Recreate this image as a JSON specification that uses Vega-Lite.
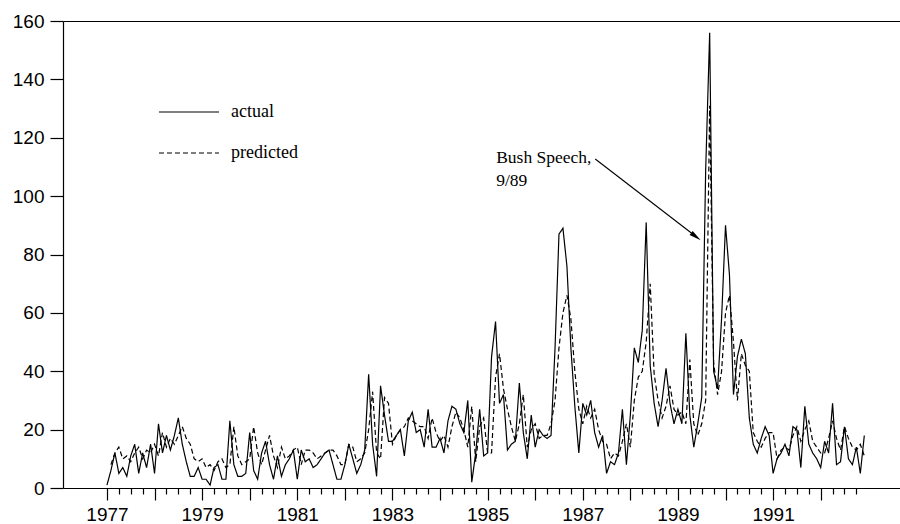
{
  "$schema": "https://vega.github.io/schema/vega-lite/v6.json",
  "width": 837,
  "height": 467,
  "autosize": {"type": "none"},
  "padding": {"left": 63, "top": 21, "right": 0, "bottom": 36},
  "background": "white",
  "config": {"view": {"stroke": null}},
  "datasets": {
    "series": [
      {"t":1977.000,"actual":1,"predicted":null},{"t":1977.083,"actual":6,"predicted":8},{"t":1977.167,"actual":12,"predicted":12},{"t":1977.250,"actual":5,"predicted":14},{"t":1977.333,"actual":7,"predicted":10},{"t":1977.417,"actual":4,"predicted":11},{"t":1977.500,"actual":11,"predicted":9},{"t":1977.583,"actual":15,"predicted":12},{"t":1977.667,"actual":5,"predicted":14},{"t":1977.750,"actual":12,"predicted":10},{"t":1977.833,"actual":7,"predicted":13},{"t":1977.917,"actual":15,"predicted":12},
      {"t":1978.000,"actual":5,"predicted":15},{"t":1978.083,"actual":22,"predicted":11},{"t":1978.167,"actual":12,"predicted":19},{"t":1978.250,"actual":18,"predicted":14},{"t":1978.333,"actual":13,"predicted":17},{"t":1978.417,"actual":18,"predicted":15},{"t":1978.500,"actual":24,"predicted":18},{"t":1978.583,"actual":15,"predicted":21},{"t":1978.667,"actual":9,"predicted":17},{"t":1978.750,"actual":4,"predicted":15},{"t":1978.833,"actual":4,"predicted":10},{"t":1978.917,"actual":7,"predicted":9},
      {"t":1979.000,"actual":3,"predicted":10},{"t":1979.083,"actual":3,"predicted":7},{"t":1979.167,"actual":1,"predicted":8},{"t":1979.250,"actual":7,"predicted":6},{"t":1979.333,"actual":8,"predicted":9},{"t":1979.417,"actual":3,"predicted":10},{"t":1979.500,"actual":3,"predicted":7},{"t":1979.583,"actual":23,"predicted":8},{"t":1979.667,"actual":8,"predicted":21},{"t":1979.750,"actual":4,"predicted":11},{"t":1979.833,"actual":4,"predicted":8},{"t":1979.917,"actual":5,"predicted":9},
      {"t":1980.000,"actual":19,"predicted":10},{"t":1980.083,"actual":6,"predicted":21},{"t":1980.167,"actual":3,"predicted":12},{"t":1980.250,"actual":12,"predicted":8},{"t":1980.333,"actual":16,"predicted":13},{"t":1980.417,"actual":8,"predicted":18},{"t":1980.500,"actual":3,"predicted":11},{"t":1980.583,"actual":11,"predicted":7},{"t":1980.667,"actual":4,"predicted":14},{"t":1980.750,"actual":8,"predicted":10},{"t":1980.833,"actual":10,"predicted":11},{"t":1980.917,"actual":13,"predicted":13},
      {"t":1981.000,"actual":3,"predicted":14},{"t":1981.083,"actual":13,"predicted":8},{"t":1981.167,"actual":9,"predicted":13},{"t":1981.250,"actual":10,"predicted":13},{"t":1981.333,"actual":7,"predicted":12},{"t":1981.417,"actual":8,"predicted":10},{"t":1981.500,"actual":10,"predicted":11},{"t":1981.583,"actual":12,"predicted":12},{"t":1981.667,"actual":13,"predicted":13},{"t":1981.750,"actual":8,"predicted":13},{"t":1981.833,"actual":3,"predicted":11},{"t":1981.917,"actual":3,"predicted":8},
      {"t":1982.000,"actual":8,"predicted":8},{"t":1982.083,"actual":15,"predicted":15},{"t":1982.167,"actual":10,"predicted":14},{"t":1982.250,"actual":5,"predicted":9},{"t":1982.333,"actual":8,"predicted":10},{"t":1982.417,"actual":13,"predicted":12},{"t":1982.500,"actual":39,"predicted":20},{"t":1982.583,"actual":15,"predicted":33},{"t":1982.667,"actual":4,"predicted":12},{"t":1982.750,"actual":35,"predicted":10},{"t":1982.833,"actual":25,"predicted":31},{"t":1982.917,"actual":16,"predicted":29},
      {"t":1983.000,"actual":16,"predicted":15},{"t":1983.083,"actual":18,"predicted":18},{"t":1983.167,"actual":20,"predicted":20},{"t":1983.250,"actual":11,"predicted":21},{"t":1983.333,"actual":23,"predicted":24},{"t":1983.417,"actual":26,"predicted":23},{"t":1983.500,"actual":19,"predicted":22},{"t":1983.583,"actual":20,"predicted":21},{"t":1983.667,"actual":14,"predicted":21},{"t":1983.750,"actual":27,"predicted":17},{"t":1983.833,"actual":14,"predicted":24},{"t":1983.917,"actual":14,"predicted":19},
      {"t":1984.000,"actual":17,"predicted":16},{"t":1984.083,"actual":12,"predicted":18},{"t":1984.167,"actual":23,"predicted":14},{"t":1984.250,"actual":28,"predicted":21},{"t":1984.333,"actual":27,"predicted":26},{"t":1984.417,"actual":22,"predicted":24},{"t":1984.500,"actual":19,"predicted":20},{"t":1984.583,"actual":30,"predicted":14},{"t":1984.667,"actual":2,"predicted":28},{"t":1984.750,"actual":12,"predicted":9},{"t":1984.833,"actual":27,"predicted":21},{"t":1984.917,"actual":11,"predicted":24},
      {"t":1985.000,"actual":12,"predicted":12},{"t":1985.083,"actual":45,"predicted":12},{"t":1985.167,"actual":57,"predicted":38},{"t":1985.250,"actual":29,"predicted":46},{"t":1985.333,"actual":32,"predicted":34},{"t":1985.417,"actual":13,"predicted":27},{"t":1985.500,"actual":15,"predicted":21},{"t":1985.583,"actual":16,"predicted":16},{"t":1985.667,"actual":36,"predicted":22},{"t":1985.750,"actual":19,"predicted":32},{"t":1985.833,"actual":10,"predicted":14},{"t":1985.917,"actual":25,"predicted":20},
      {"t":1986.000,"actual":14,"predicted":22},{"t":1986.083,"actual":20,"predicted":17},{"t":1986.167,"actual":18,"predicted":18},{"t":1986.250,"actual":17,"predicted":18},{"t":1986.333,"actual":18,"predicted":22},{"t":1986.417,"actual":48,"predicted":30},{"t":1986.500,"actual":87,"predicted":48},{"t":1986.583,"actual":89,"predicted":60},{"t":1986.667,"actual":76,"predicted":66},{"t":1986.750,"actual":48,"predicted":58},{"t":1986.833,"actual":28,"predicted":40},{"t":1986.917,"actual":12,"predicted":27},
      {"t":1987.000,"actual":29,"predicted":22},{"t":1987.083,"actual":25,"predicted":28},{"t":1987.167,"actual":30,"predicted":24},{"t":1987.250,"actual":19,"predicted":27},{"t":1987.333,"actual":14,"predicted":20},{"t":1987.417,"actual":18,"predicted":16},{"t":1987.500,"actual":5,"predicted":15},{"t":1987.583,"actual":9,"predicted":10},{"t":1987.667,"actual":8,"predicted":12},{"t":1987.750,"actual":12,"predicted":11},{"t":1987.833,"actual":27,"predicted":16},{"t":1987.917,"actual":8,"predicted":22},
      {"t":1988.000,"actual":25,"predicted":14},{"t":1988.083,"actual":48,"predicted":30},{"t":1988.167,"actual":43,"predicted":38},{"t":1988.250,"actual":54,"predicted":40},{"t":1988.333,"actual":91,"predicted":50},{"t":1988.417,"actual":42,"predicted":70},{"t":1988.500,"actual":29,"predicted":39},{"t":1988.583,"actual":21,"predicted":30},{"t":1988.667,"actual":30,"predicted":24},{"t":1988.750,"actual":41,"predicted":28},{"t":1988.833,"actual":29,"predicted":35},{"t":1988.917,"actual":22,"predicted":27},
      {"t":1989.000,"actual":27,"predicted":25},{"t":1989.083,"actual":22,"predicted":26},{"t":1989.167,"actual":53,"predicted":22},{"t":1989.250,"actual":25,"predicted":44},{"t":1989.333,"actual":14,"predicted":22},{"t":1989.417,"actual":22,"predicted":18},{"t":1989.500,"actual":31,"predicted":22},{"t":1989.583,"actual":109,"predicted":30},{"t":1989.667,"actual":156,"predicted":131},{"t":1989.750,"actual":40,"predicted":43},{"t":1989.833,"actual":34,"predicted":32},{"t":1989.917,"actual":58,"predicted":40},
      {"t":1990.000,"actual":90,"predicted":60},{"t":1990.083,"actual":73,"predicted":66},{"t":1990.167,"actual":32,"predicted":50},{"t":1990.250,"actual":45,"predicted":30},{"t":1990.333,"actual":51,"predicted":46},{"t":1990.417,"actual":46,"predicted":42},{"t":1990.500,"actual":24,"predicted":40},{"t":1990.583,"actual":15,"predicted":19},{"t":1990.667,"actual":12,"predicted":16},{"t":1990.750,"actual":17,"predicted":14},{"t":1990.833,"actual":21,"predicted":17},{"t":1990.917,"actual":18,"predicted":19},
      {"t":1991.000,"actual":5,"predicted":19},{"t":1991.083,"actual":10,"predicted":10},{"t":1991.167,"actual":12,"predicted":13},{"t":1991.250,"actual":15,"predicted":14},{"t":1991.333,"actual":11,"predicted":13},{"t":1991.417,"actual":21,"predicted":18},{"t":1991.500,"actual":20,"predicted":21},{"t":1991.583,"actual":7,"predicted":16},{"t":1991.667,"actual":28,"predicted":20},{"t":1991.750,"actual":15,"predicted":23},{"t":1991.833,"actual":12,"predicted":16},{"t":1991.917,"actual":10,"predicted":14},
      {"t":1992.000,"actual":7,"predicted":12},{"t":1992.083,"actual":16,"predicted":12},{"t":1992.167,"actual":12,"predicted":17},{"t":1992.250,"actual":29,"predicted":23},{"t":1992.333,"actual":8,"predicted":17},{"t":1992.417,"actual":9,"predicted":13},{"t":1992.500,"actual":21,"predicted":21},{"t":1992.583,"actual":10,"predicted":17},{"t":1992.667,"actual":8,"predicted":14},{"t":1992.750,"actual":14,"predicted":13},{"t":1992.833,"actual":5,"predicted":15},{"t":1992.917,"actual":18,"predicted":11}
    ]
  },
  "resolve": {"axis": {"x": "independent", "y": "independent"}},
  "layer": [
    {
      "data": {"name": "series"},
      "transform": [{"fold": ["actual", "predicted"], "as": ["series", "value"]}],
      "mark": {"type": "line", "color": "black", "strokeWidth": 1.2, "interpolate": "linear"},
      "encoding": {
        "x": {
          "field": "t", "type": "quantitative",
          "scale": {"domain": [1976.076, 1993.667], "nice": false, "zero": false},
          "axis": {
            "orient": "bottom", "title": null, "grid": false,
            "values": [1977,1978,1979,1980,1981,1982,1983,1984,1985,1986,1987,1988,1989,1990,1991,1992],
            "tickSize": 12,
            "labelExpr": "datum.value % 2 === 1 ? '' + datum.value : ''",
            "labelOverlap": false, "labelBound": false, "labelFlush": false,
            "labelFont": "Liberation Sans", "labelFontSize": 19, "labelColor": "black", "labelPadding": 5,
            "domainColor": "black", "domainWidth": 1.2, "tickColor": "black", "tickWidth": 1.2
          }
        },
        "y": {
          "field": "value", "type": "quantitative",
          "scale": {"domain": [0, 160], "nice": false, "zero": true},
          "axis": {
            "orient": "left", "title": null, "grid": false,
            "values": [0,20,40,60,80,100,120,140,160],
            "tickSize": 13, "labelPadding": 6,
            "labelFont": "Liberation Sans", "labelFontSize": 19, "labelColor": "black",
            "domainColor": "black", "domainWidth": 1.2, "tickColor": "black", "tickWidth": 1.2
          }
        },
        "strokeDash": {
          "field": "series", "type": "nominal",
          "scale": {"domain": ["actual", "predicted"], "range": [[1, 0], [5, 3]]},
          "legend": {
            "title": null, "orient": "none", "legendX": 95, "legendY": 60, "padding": 0,
            "symbolType": "stroke", "symbolSize": 3600, "symbolStrokeWidth": 1.2, "symbolStrokeColor": "black",
            "labelFont": "Liberation Serif", "labelFontSize": 18, "labelColor": "black", "labelOffset": 11,
            "rowPadding": 1
          }
        }
      }
    },
    {
      "data": {"values": [{}]},
      "mark": {"type": "text", "font": "Liberation Serif", "fontSize": 17.5, "color": "black", "align": "left", "baseline": "alphabetic", "lineHeight": 23},
      "encoding": {
        "x": {"datum": 1985.18, "type": "quantitative", "scale": {"domain": [1976.076, 1993.667], "nice": false, "zero": false},
          "axis": {"orient": "top", "title": null, "ticks": false, "labels": false, "grid": false, "domain": true, "domainColor": "black", "domainWidth": 1.2}},
        "y": {"datum": 111.3, "type": "quantitative", "scale": {"domain": [0, 160], "nice": false}, "axis": null},
        "text": {"value": ["Bush Speech,", "9/89"]}
      }
    },
    {
      "data": {"values": [{}]},
      "mark": {"type": "rule", "color": "black", "strokeWidth": 1.1},
      "encoding": {
        "x": {"datum": 1987.262, "type": "quantitative", "scale": {"domain": [1976.076, 1993.667], "nice": false, "zero": false},
          "axis": {"orient": "bottom", "title": null, "grid": false, "labels": false, "domain": false,
            "values": [1977.25,1977.5,1977.75,1978.25,1978.5,1978.75,1979.25,1979.5,1979.75,1980.25,1980.5,1980.75,1981.25,1981.5,1981.75,1982.25,1982.5,1982.75,1983.25,1983.5,1983.75,1984.25,1984.5,1984.75,1985.25,1985.5,1985.75,1986.25,1986.5,1986.75,1987.25,1987.5,1987.75,1988.25,1988.5,1988.75,1989.25,1989.5,1989.75,1990.25,1990.5,1990.75,1991.25,1991.5,1991.75,1992.25,1992.5,1992.75],
            "tickSize": 6, "tickColor": "black", "tickWidth": 1.2}},
        "y": {"datum": 112.7, "type": "quantitative", "scale": {"domain": [0, 160], "nice": false}, "axis": null},
        "x2": {"datum": 1989.378},
        "y2": {"datum": 86.15}
      }
    },
    {
      "data": {"values": [{}]},
      "mark": {"type": "point", "filled": true, "color": "black", "opacity": 1, "shape": "M1,0L-1,-0.42L-1,0.42Z", "size": 144, "angle": 37.5},
      "encoding": {
        "x": {"datum": 1989.378, "type": "quantitative", "scale": {"domain": [1976.076, 1993.667], "nice": false, "zero": false}, "axis": null},
        "y": {"datum": 86.15, "type": "quantitative", "scale": {"domain": [0, 160], "nice": false}, "axis": null}
      }
    }
  ]
}
